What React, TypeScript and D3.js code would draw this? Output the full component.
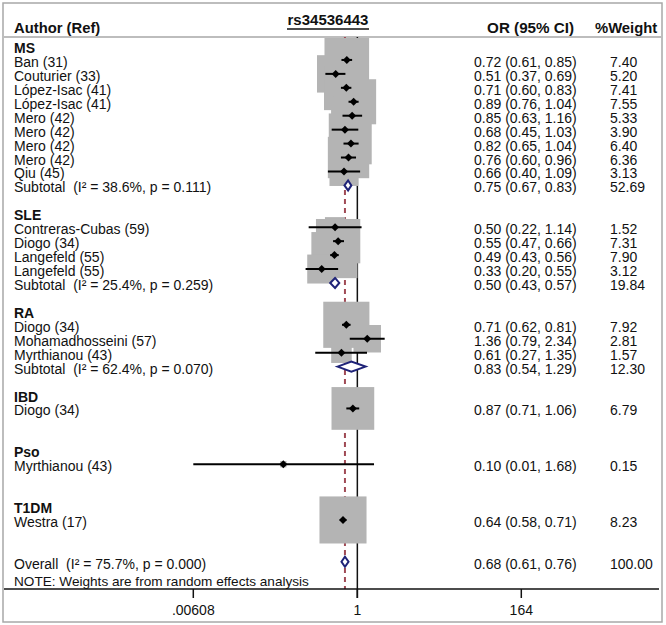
import React from "react";
import * as d3 from "d3";

// ---------- data ----------
const title = "rs34536443";
const groupNames = ["MS", "SLE", "RA", "IBD", "Pso", "T1DM"];
const groupRows = [0, 12, 19, 25, 29, 33];

const studyLabels = [
  "Ban (31)", "Couturier (33)", "López-Isac (41)", "López-Isac (41)", "Mero (42)", "Mero (42)", "Mero (42)", "Mero (42)", "Qiu (45)",
  "Contreras-Cubas (59)", "Diogo (34)", "Langefeld (55)", "Langefeld (55)",
  "Diogo (34)", "Mohamadhosseini (57)", "Myrthianou (43)",
  "Diogo (34)",
  "Myrthianou (43)",
  "Westra (17)",
];
const studyRows = [1, 2, 3, 4, 5, 6, 7, 8, 9, 13, 14, 15, 16, 20, 21, 22, 26, 30, 34];
const studyOR = [0.72, 0.51, 0.71, 0.89, 0.85, 0.68, 0.82, 0.76, 0.66, 0.50, 0.55, 0.49, 0.33, 0.71, 1.36, 0.61, 0.87, 0.10, 0.64];
const studyLow = [0.61, 0.37, 0.60, 0.76, 0.63, 0.45, 0.65, 0.60, 0.40, 0.22, 0.47, 0.43, 0.20, 0.62, 0.79, 0.27, 0.71, 0.00608, 0.58];
const studyHigh = [0.85, 0.69, 0.83, 1.04, 1.16, 1.03, 1.04, 0.96, 1.09, 1.14, 0.66, 0.56, 0.55, 0.81, 2.34, 1.35, 1.06, 1.68, 0.71];
const studyWeight = [7.40, 5.20, 7.41, 7.55, 5.33, 3.90, 6.40, 6.36, 3.13, 1.52, 7.31, 7.90, 3.12, 7.92, 2.81, 1.57, 6.79, 0.15, 8.23];

const pooledLabels = [
  "Subtotal  (I² = 38.6%, p = 0.111)",
  "Subtotal  (I² = 25.4%, p = 0.259)",
  "Subtotal  (I² = 62.4%, p = 0.070)",
  "Overall  (I² = 75.7%, p = 0.000)",
];
const pooledRows = [10, 17, 23, 37];
const pooledOR = [0.75, 0.50, 0.83, 0.68];
const pooledLow = [0.67, 0.43, 0.54, 0.61];
const pooledHigh = [0.83, 0.57, 1.29, 0.76];
const pooledWeight = [52.69, 19.84, 12.30, 100.0];

const overallOR = 0.68;
const tickValues = [0.00608, 1, 164];
const tickLabels = [".00608", "1", "164"];
const note = "NOTE: Weights are from random effects analysis";

// ---------- layout ----------
const W = 666;
const H = 625;
const FONT = "'Liberation Sans', Arial, Helvetica, sans-serif";
const headerY = 37;
const axisY = 589;

const x = d3.scaleLog().domain([0.00608, 164]).range([193.3, 521.3]);
const y = d3.scaleLinear().domain([0, 37]).range([46, 46 + 13.94 * 37]);

const BOX = "#b4b4b4";
const NAVY = "#1f2378";
const DASH = "#a04a55";
const TXT = "#111";

export default function App() {
  const boxSide = (w: number) => 16.4 * Math.sqrt(w);
  const fmt = (v: number) => v.toFixed(2);
  const orText = (o: number, l: number, h: number) => `${fmt(o)} (${fmt(l)}, ${fmt(h)})`;
  const pre = { whiteSpace: "pre" as const };

  return (
    <svg
      width={W}
      height={H}
      style={{ position: "absolute", left: 0, top: 0, background: "#fff" }}
      fontFamily={FONT}
    >
      <defs>
        <clipPath id="plotClip">
          <rect x={0} y={headerY + 1} width={W} height={axisY - headerY - 1} />
        </clipPath>
      </defs>
      <rect x={0} y={0} width={W} height={H} fill="#fff" />
      {/* outer border */}
      <rect x={3} y={3} width={659} height={619} fill="none" stroke="#a8a8a8" strokeWidth={1.5} />

      {/* headers */}
      <text x={14} y={33} fontSize={14.8} fontWeight="bold" fill={TXT}>Author (Ref)</text>
      <text x={328} y={25} fontSize={15} fontWeight="bold" fill={TXT} textAnchor="middle">{title}</text>
      <line x1={287} x2={369} y1={29} y2={29} stroke={TXT} strokeWidth={1.3} />
      <text x={574} y={33} fontSize={15.2} fontWeight="bold" fill={TXT} textAnchor="end">OR (95% CI)</text>
      <text x={595} y={33} fontSize={14.8} fontWeight="bold" fill={TXT}>%Weight</text>
      <line x1={3} x2={662} y1={headerY} y2={headerY} stroke="#bdbdbd" strokeWidth={2} />

      {/* reference lines */}
      <line x1={x(1)} x2={x(1)} y1={headerY} y2={axisY + 9} stroke={TXT} strokeWidth={1.5} />
      <line x1={x(overallOR)} x2={x(overallOR)} y1={headerY} y2={axisY} stroke={DASH} strokeWidth={2} strokeDasharray="5,4" />

      {/* boxes */}
      <g clipPath="url(#plotClip)">
        {studyOR.map((o, i) => {
          const s = boxSide(studyWeight[i]);
          return <rect key={i} x={x(o) - s / 2} y={y(studyRows[i]) - s / 2} width={s} height={s} fill={BOX} />;
        })}
      </g>

      {/* CI lines and points */}
      {studyOR.map((o, i) => {
        const cy = y(studyRows[i]);
        const cx = x(o);
        return (
          <g key={i}>
            <line x1={x(studyLow[i])} x2={x(studyHigh[i])} y1={cy} y2={cy} stroke="#000" strokeWidth={2} />
            <path d={`M${cx - 4},${cy}L${cx},${cy - 4}L${cx + 4},${cy}L${cx},${cy + 4}Z`} fill="#000" />
          </g>
        );
      })}

      {/* pooled diamonds */}
      {pooledOR.map((o, i) => {
        const cy = y(pooledRows[i]);
        const l = x(pooledLow[i]);
        const h = x(pooledHigh[i]);
        const c = x(o);
        return (
          <path
            key={i}
            d={`M${l},${cy}L${c},${cy - 5}L${h},${cy}L${c},${cy + 5}Z`}
            fill="#fff"
            stroke={NAVY}
            strokeWidth={2}
          />
        );
      })}

      {/* left labels */}
      {groupNames.map((g, i) => (
        <text key={g} x={14} y={y(groupRows[i]) + 7} fontSize={14} fontWeight="bold" fill={TXT}>{g}</text>
      ))}
      {studyLabels.map((s, i) => (
        <text key={i} x={14} y={y(studyRows[i]) + 7} fontSize={14} fill={TXT}>{s}</text>
      ))}
      {pooledLabels.map((s, i) => (
        <text key={i} x={14} y={y(pooledRows[i]) + 7} fontSize={14} fill={TXT} style={pre}>{s}</text>
      ))}

      {/* right columns */}
      {studyOR.map((o, i) => (
        <g key={i}>
          <text x={474} y={y(studyRows[i]) + 7} fontSize={14} fill={TXT}>{orText(o, studyLow[i], studyHigh[i])}</text>
          <text x={610} y={y(studyRows[i]) + 7} fontSize={14} fill={TXT}>{fmt(studyWeight[i])}</text>
        </g>
      ))}
      {pooledOR.map((o, i) => (
        <g key={i}>
          <text x={474} y={y(pooledRows[i]) + 7} fontSize={14} fill={TXT}>{orText(o, pooledLow[i], pooledHigh[i])}</text>
          <text x={610} y={y(pooledRows[i]) + 7} fontSize={14} fill={TXT}>{fmt(pooledWeight[i])}</text>
        </g>
      ))}

      <text x={14} y={586} fontSize={13.6} fill={TXT}>{note}</text>

      {/* axis */}
      <line x1={4} x2={659} y1={axisY} y2={axisY} stroke={TXT} strokeWidth={1.5} />
      {tickValues.map((t, i) => (
        <g key={i}>
          <line x1={x(t)} x2={x(t)} y1={axisY} y2={axisY + 9} stroke={TXT} strokeWidth={1.5} />
          <text x={x(t)} y={615} fontSize={14} fill={TXT} textAnchor="middle">{tickLabels[i]}</text>
        </g>
      ))}
    </svg>
  );
}
